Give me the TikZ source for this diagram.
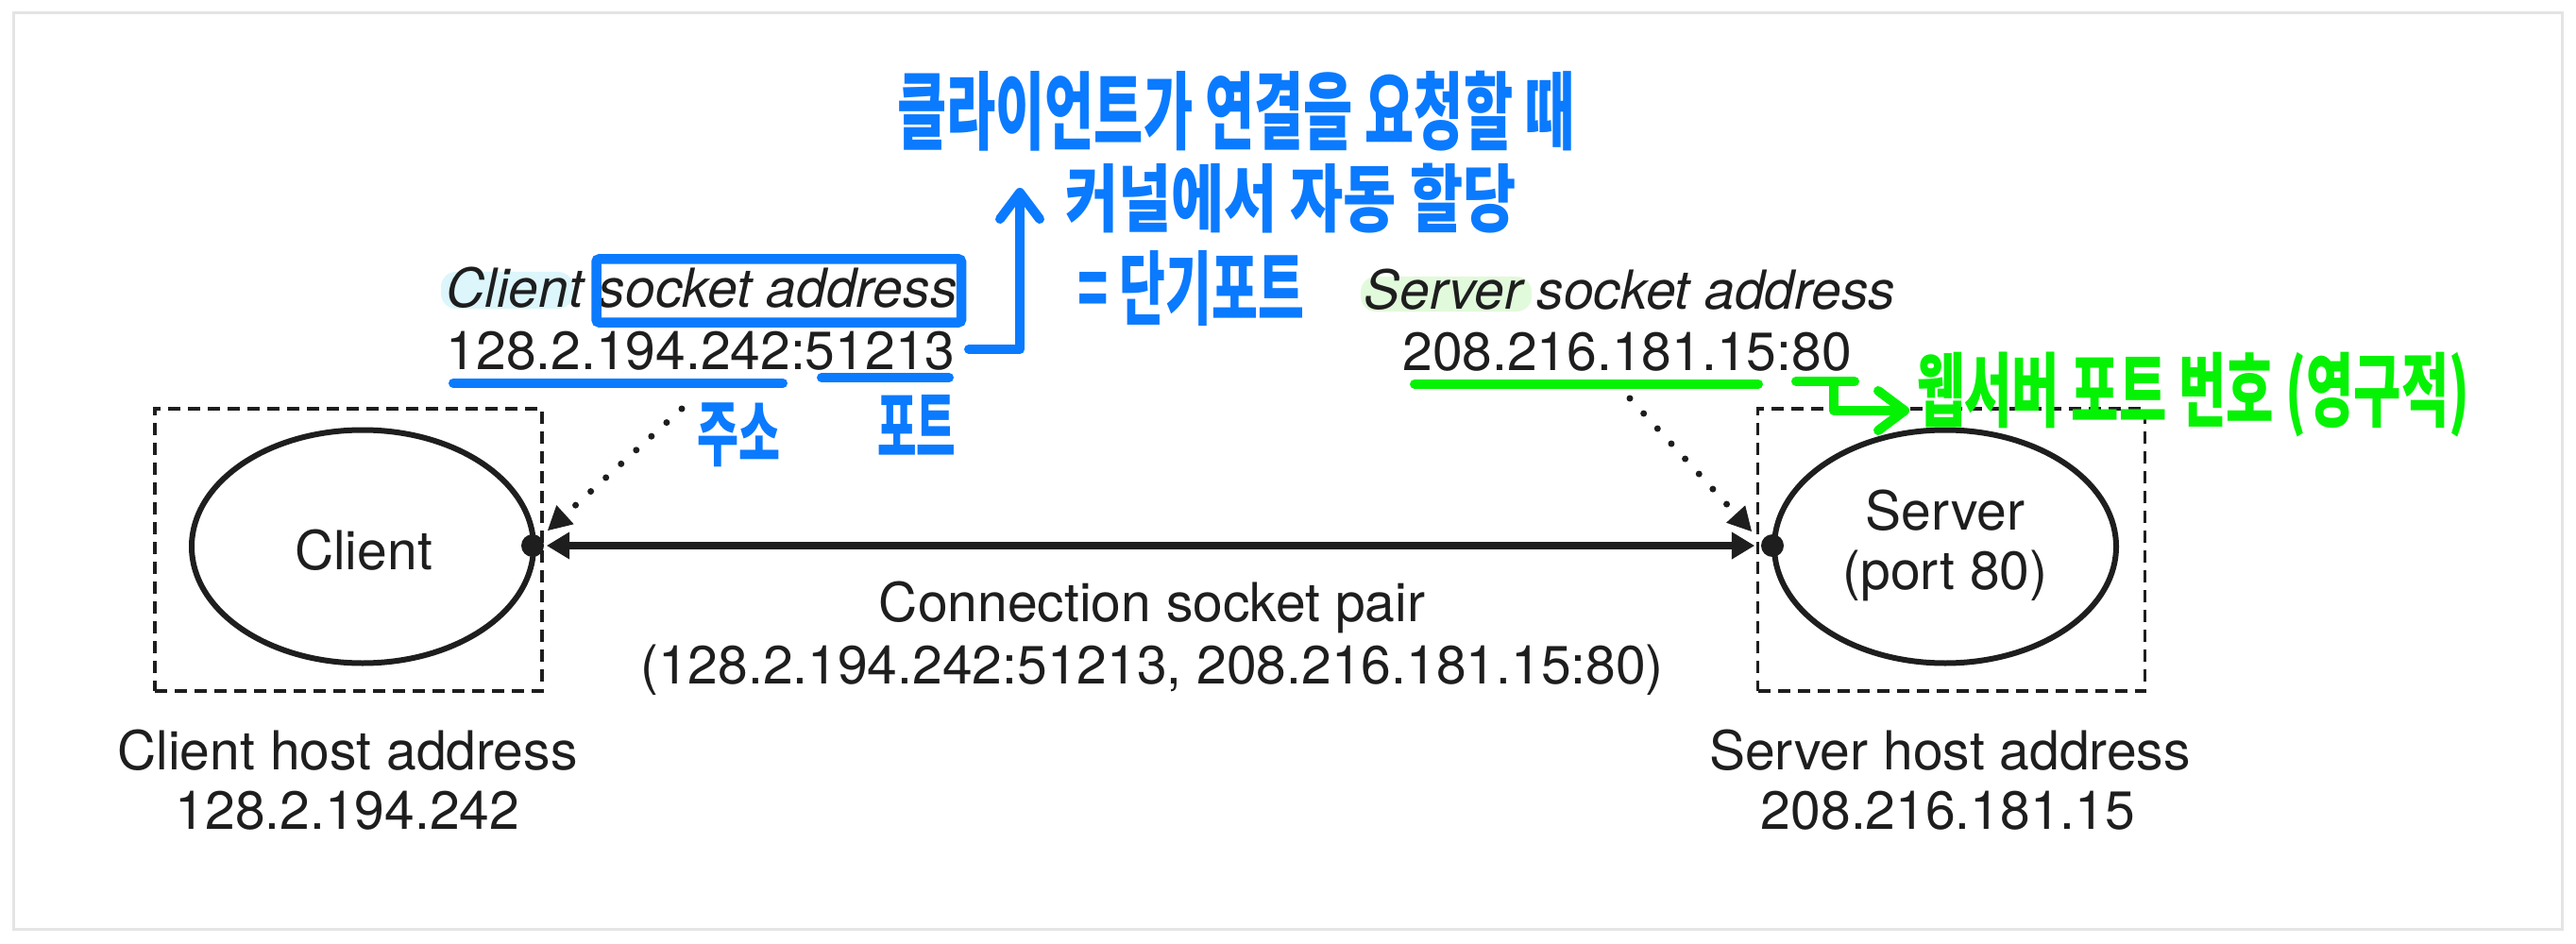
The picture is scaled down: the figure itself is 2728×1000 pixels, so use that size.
\documentclass[tikz,border=0pt]{standalone}
\usepackage{fontspec}
\usepackage{graphicx}
\setmainfont{TeX Gyre Heros}
\newfontfamily\krfont{Noto Sans CJK KR}
\usetikzlibrary{shapes.geometric,arrows.meta}
\definecolor{ink}{RGB}{30,30,30}
\definecolor{penblue}{RGB}{10,122,255}
\definecolor{pengreen}{RGB}{5,242,5}
\definecolor{hlcyan}{RGB}{220,246,252}
\definecolor{hlgreen}{RGB}{226,250,220}
\definecolor{framegray}{RGB}{228,228,228}
\tikzset{
  txt/.style={font=\fontsize{57}{63}\selectfont, text=ink, inner sep=0pt},
  hostbox/.style={draw=ink, line width=3.5pt, dash pattern=on 13pt off 8pt,
    minimum width=410pt, minimum height=299pt, inner sep=0pt},
  proc/.style={ellipse, draw=ink, line width=6pt, minimum width=362pt,
    minimum height=247pt, inner sep=0pt},
  sockdot/.style={circle, fill=ink, minimum size=24pt, inner sep=0pt},
  pairarrow/.style={draw=ink, line width=8pt,
    {Triangle[length=24pt,width=29pt,line width=1pt]}-{Triangle[length=24pt,width=29pt,line width=1pt]}},
  dotarrow/.style={draw=ink, line width=7pt, line cap=round,
    dash pattern=on 0pt off 21.7pt, -{Triangle[length=25pt,width=27pt,line width=1pt]}},
  penline/.style={line width=10pt, line cap=round, line join=round},
  penarrow/.style={penline, -{Straight Barb[length=28pt,width=42pt,round]}},
  krtxt/.style={inner sep=0pt, anchor=west},
}
\begin{document}
\begin{tikzpicture}[x=1pt, y=-1pt]
\useasboundingbox (0,0) rectangle (2728,1000);
\fill[white] (0,0) rectangle (2728,1000);
\draw[framegray, line width=3pt] (14,14) rectangle (2713,984);

% highlights
\fill[hlcyan, rounded corners=16pt] (467,288) rectangle (607,327);
\fill[hlgreen, rounded corners=16pt] (1441,293) rectangle (1622,330);

% hosts
\node[hostbox] (cbox) at (369,582.5) {};
\node[hostbox] (sbox) at (2066.5,582.5) {};
\node[proc] (client) at (384,579) {};
\node[proc] (server) at (2060,579) {};
\node[txt, anchor=base] (clientlbl) at (385,603) {Client};
\node[txt, anchor=base] (serverlbl) at (2060,561) {Server};
\node[txt, anchor=base] (serverport) at (2060,624) {(port 80)};
\node[sockdot] (cdot) at (564,578) {};
\node[sockdot] (sdot) at (1877,578) {};

% connection
\draw[pairarrow, shorten <=3pt, shorten >=7pt] (cdot) -- (sdot);
\node[txt, anchor=base] (pairlbl) at (1220,658) {Connection socket pair};
\node[txt, anchor=base] (pairval) at (1220,724) {(128.2.194.242:51213, 208.216.181.15:80)};

% host addresses
\node[txt, anchor=base] (chostlbl) at (368,815) {Client host address};
\node[txt, anchor=base] (chostval) at (368,878) {128.2.194.242};
\node[txt, anchor=base] (shostlbl) at (2065,815) {Server host address};
\node[txt, anchor=base] (shostval) at (2063,878) {208.216.181.15};

% socket addresses
\node[txt, anchor=base] (csocklbl) at (743,326) {\itshape Client socket address};
\node[txt, anchor=base] (csockval) at (742,391) {128.2.194.242:51213};
\node[txt, anchor=base] (ssocklbl) at (1726,327) {\itshape Server socket address};
\node[txt, anchor=base] (ssockval) at (1723,392) {208.216.181.15:80};

% dotted pointers
\coordinate (cdotstart) at (722,433);
\coordinate (cdotend) at (580,562);
\coordinate (sdotstart) at (1726,422);
\coordinate (sdotend) at (1855,563);
\draw[dotarrow] (cdotstart) -- (cdotend);
\draw[dotarrow] (sdotstart) -- (sdotend);

% blue annotations
\draw[penblue, line width=10.5pt, rounded corners=3pt] (631.5,274.5) rectangle (1018,341.5);
\draw[penblue, penline] (480,406) -- (829,406);
\draw[penblue, penline] (870,400) -- (1005,400);
\coordinate (portend) at (1026,370);
\coordinate (notetip) at (1080,199);
\draw[penblue, penarrow] (portend) -| (notetip);
\node[krtxt, text=penblue] (note1) at (950,118) {\resizebox*{717pt}{85pt}{\krfont\bfseries 클라이언트가 연결을 요청할 때}};
\node[krtxt, text=penblue] (note2) at (1128,210) {\resizebox*{477pt}{74pt}{\krfont\bfseries 커널에서 자동 할당}};
\node[krtxt, text=penblue] (note3) at (1141,305) {\resizebox*{240pt}{80pt}{\krfont\bfseries = 단기포트}};
\node[krtxt, text=penblue] (addrnote) at (738,461) {\resizebox*{88pt}{68pt}{\krfont\bfseries 주소}};
\node[krtxt, text=penblue] (portnote) at (929,450) {\resizebox*{83pt}{64pt}{\krfont\bfseries 포트}};

% green annotations
\draw[pengreen, penline] (1498,407) -- (1862,407);
\coordinate (gbarl) at (1902,404);
\coordinate (gbarr) at (1964,404);
\coordinate (gstem) at (1942,404);
\coordinate (gtip) at (2022,435);
\draw[pengreen, penline] (gbarl) -- (gbarr);
\draw[pengreen, penarrow] (gstem) |- (gtip);
\node[krtxt, text=pengreen] (webnote) at (2030,418) {\resizebox*{585pt}{90pt}{\krfont\bfseries 웹서버 포트 번호 (영구적)}};
\end{tikzpicture}
\end{document}
